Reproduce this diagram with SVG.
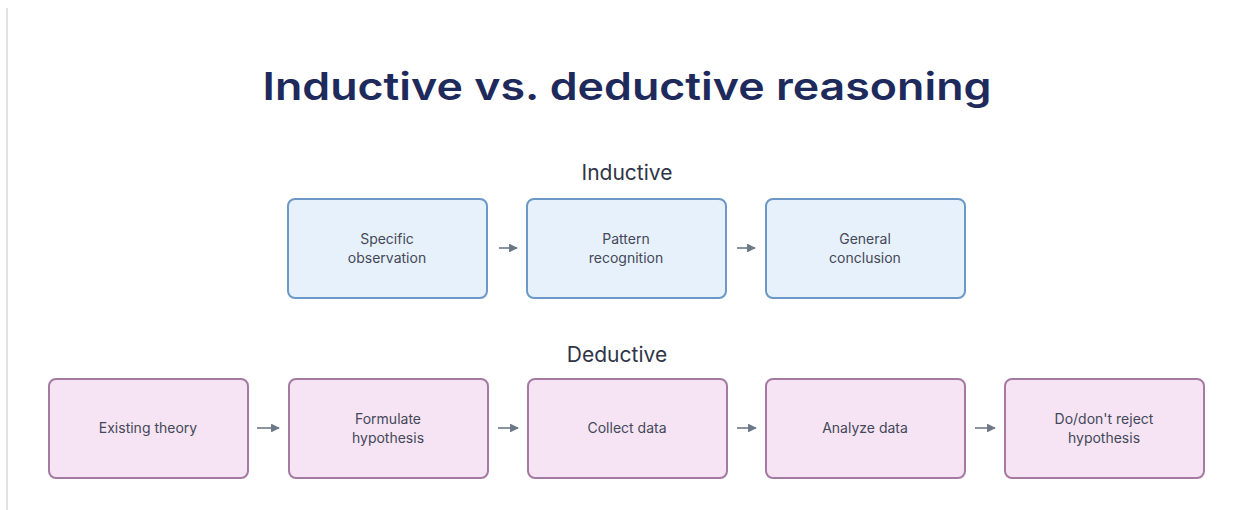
<svg xmlns="http://www.w3.org/2000/svg" width="1241" height="510" viewBox="0 0 1241 510">
<style>
.title{font-family:Inter,"Liberation Sans",sans-serif;font-weight:600;font-size:38px;fill:#1e2a5c;text-anchor:middle}
.sub{font-family:Inter,"Liberation Sans",sans-serif;font-weight:400;font-size:21px;fill:#2f3447;text-anchor:middle}
.lbl{font-family:Inter,"Liberation Sans",sans-serif;font-weight:400;font-size:14px;fill:#444858;text-anchor:middle}
.ind{fill:#e7f1fb;stroke:#6b98c6;stroke-width:2}
.ded{fill:#f6e4f4;stroke:#a47aa2;stroke-width:2}
.arr{stroke:#6c7887;stroke-width:1.6;fill:none}
</style>
<defs>
<marker id="ah" viewBox="0 0 10 10" refX="9" refY="5" markerWidth="5.5" markerHeight="5.5" orient="auto" markerUnits="strokeWidth">
<path d="M0,0 L10,5 L0,10 z" fill="#6c7887"/>
</marker>
</defs>
<rect width="1241" height="510" fill="#ffffff"/>
<line x1="7" y1="8" x2="7" y2="510" stroke="#e2e2e2" stroke-width="2"/>
<text class="title" x="627" y="100" textLength="729" lengthAdjust="spacingAndGlyphs">Inductive vs. deductive reasoning</text>
<text class="sub" x="627" y="180">Inductive</text>
<text class="sub" x="617" y="362">Deductive</text>

<g id="connectors">
<line class="arr" x1="499" y1="248" x2="517" y2="248" marker-end="url(#ah)"/>
<line class="arr" x1="737" y1="248" x2="755" y2="248" marker-end="url(#ah)"/>
<line class="arr" x1="257" y1="428" x2="279" y2="428" marker-end="url(#ah)"/>
<line class="arr" x1="498" y1="428" x2="518" y2="428" marker-end="url(#ah)"/>
<line class="arr" x1="737" y1="428" x2="756" y2="428" marker-end="url(#ah)"/>
<line class="arr" x1="975" y1="428" x2="995" y2="428" marker-end="url(#ah)"/>
</g>

<g id="specific-observation">
<rect class="ind" x="288" y="199" width="199" height="99" rx="7"/>
<text class="lbl" x="387" y="244">Specific</text>
<text class="lbl" x="387" y="263">observation</text>
</g>
<g id="pattern-recognition">
<rect class="ind" x="527" y="199" width="199" height="99" rx="7"/>
<text class="lbl" x="626" y="244">Pattern</text>
<text class="lbl" x="626" y="263">recognition</text>
</g>
<g id="general-conclusion">
<rect class="ind" x="766" y="199" width="199" height="99" rx="7"/>
<text class="lbl" x="865" y="244">General</text>
<text class="lbl" x="865" y="263">conclusion</text>
</g>

<g id="existing-theory">
<rect class="ded" x="49" y="379" width="199" height="99" rx="7"/>
<text class="lbl" x="148" y="433">Existing theory</text>
</g>
<g id="formulate-hypothesis">
<rect class="ded" x="289" y="379" width="199" height="99" rx="7"/>
<text class="lbl" x="388" y="424">Formulate</text>
<text class="lbl" x="388" y="443">hypothesis</text>
</g>
<g id="collect-data">
<rect class="ded" x="528" y="379" width="199" height="99" rx="7"/>
<text class="lbl" x="627" y="433">Collect data</text>
</g>
<g id="analyze-data">
<rect class="ded" x="766" y="379" width="199" height="99" rx="7"/>
<text class="lbl" x="865" y="433">Analyze data</text>
</g>
<g id="reject-hypothesis">
<rect class="ded" x="1005" y="379" width="199" height="99" rx="7"/>
<text class="lbl" x="1104" y="424">Do/don't reject</text>
<text class="lbl" x="1104" y="443">hypothesis</text>
</g>
</svg>
